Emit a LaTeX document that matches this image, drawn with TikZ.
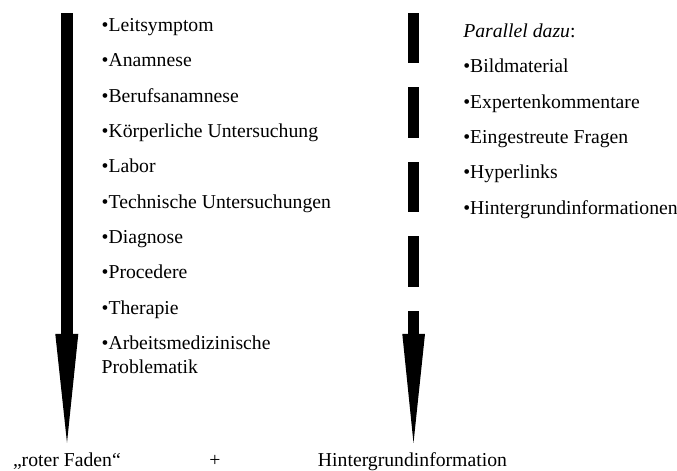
\documentclass[tikz,border=0pt]{standalone}
\usepackage{fontspec}
\setmainfont{Liberation Serif}

\tikzset{
  item/.style={anchor=base west,inner sep=0pt,outer sep=0pt,
    font=\fontsize{9.85}{12}\selectfont},
  label/.style={item,anchor=base}
}

\begin{document}
\begin{tikzpicture}[x=0.5pt,y=-0.5pt]
            \useasboundingbox (0,0) rectangle (677,471);
            % roter Faden
            \fill (61,13) rectangle (73,334);
            \fill (55.3,334) -- (78.3,334) -- (67,442.7) -- cycle;
            % Hintergrund, gestrichelt
            \foreach \y in {13,87.5,162,236.5}
              \fill (407.7,\y) rectangle (419.5,\y+50.5);
            \fill (407.7,311) rectangle (419.5,334);
            \fill (402.3,334) -- (425,334) -- (413.5,443) -- cycle;
            % linke Liste
            \node[item] (leit)  at (101.7,31.7)  {•Leitsymptom};
            \node[item] (anam)  at (101.7,67)    {•Anamnese};
            \node[item] (beruf) at (101.7,102.3) {•Berufsanamnese};
            \node[item] (koerp) at (101.7,137.6) {•Körperliche Untersuchung};
            \node[item] (labor) at (101.7,172.9) {•Labor};
            \node[item] (techn) at (101.7,208.2) {•Technische Untersuchungen};
            \node[item] (diagn) at (101.7,243.5) {•Diagnose};
            \node[item] (proc)  at (101.7,278.8) {•Procedere};
            \node[item] (ther)  at (101.7,314.1) {•Therapie};
            \node[item] (arbm)  at (101.7,349.4) {•Arbeitsmedizinische};
            \node[item] (probl) at (101.7,373.3) {Problematik};
            % rechte Liste
            \node[item] (para)  at (463.3,37.7)  {\textit{Parallel dazu}:};
            \node[item] (bild)  at (463.3,73)    {•Bildmaterial};
            \node[item] (expert) at (463.3,108.3) {•Expertenkommentare};
            \node[item] (fragen) at (463.3,143.6) {•Eingestreute Fragen};
            \node[item] (hyper) at (463.3,178.9) {•Hyperlinks};
            \node[item] (hintinf) at (463.3,214.2) {•Hintergrundinformationen};
            % unten
            \node[item] (faden) at (13,466.5) {„roter Faden“};
            \node[label] (plus) at (215,466.5) {+};
            \node[item] (hint)  at (318,466.5) {Hintergrundinformation};
\end{tikzpicture}
\end{document}
